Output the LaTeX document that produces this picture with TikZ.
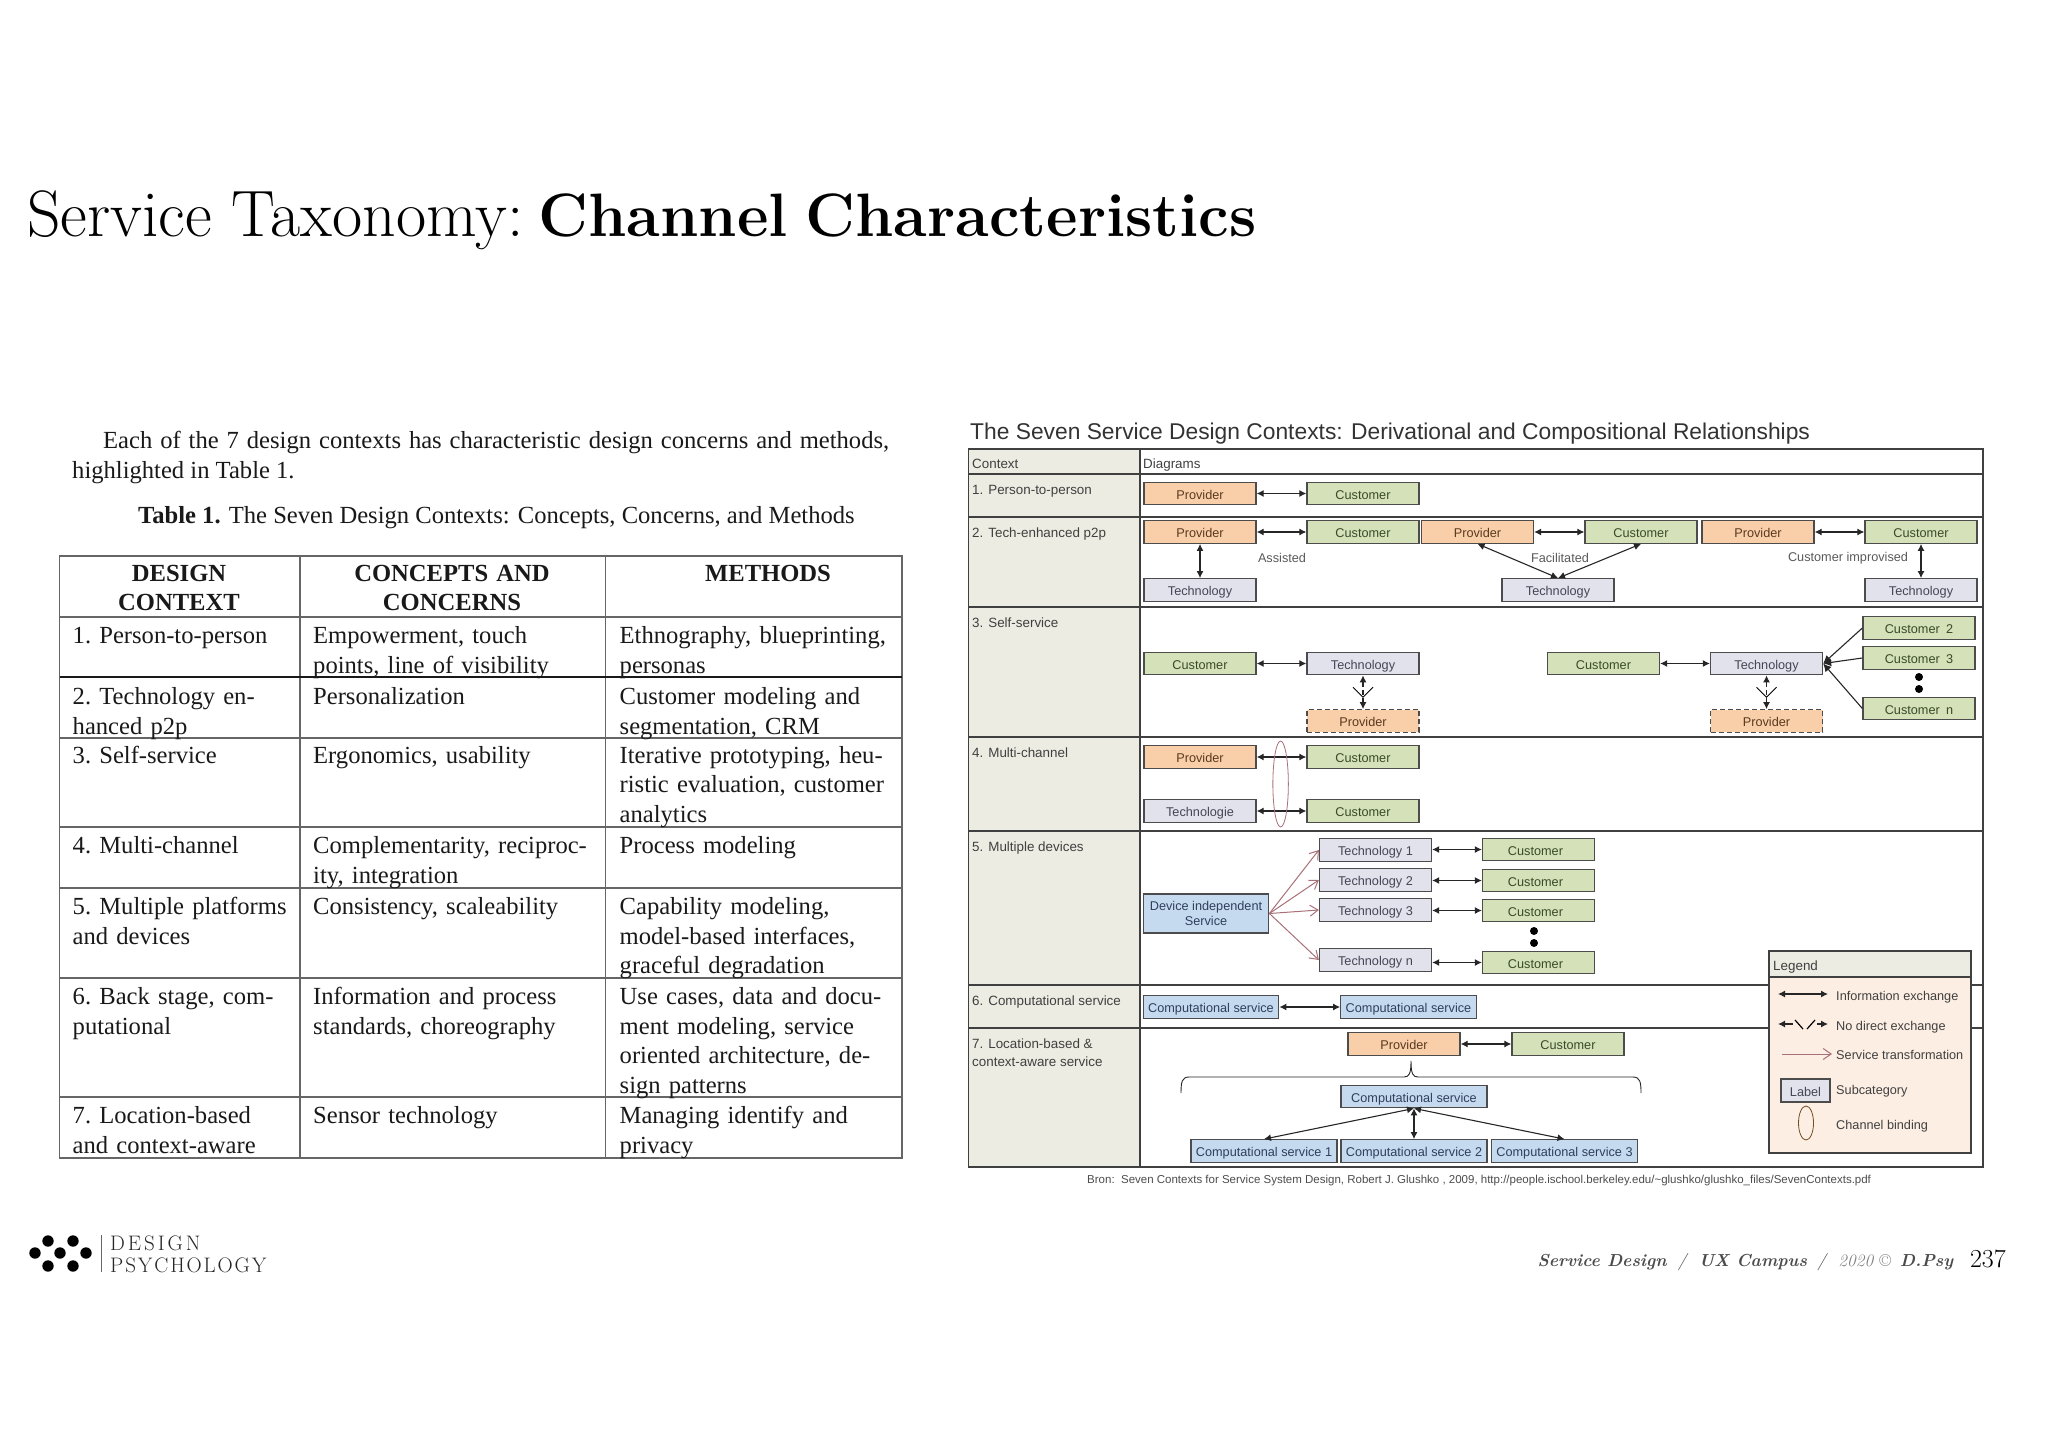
\documentclass[tikz,border=0pt]{standalone}
\usepackage{fontspec}
\usetikzlibrary{arrows.meta,calc,shapes.geometric}
\newfontfamily\sansf{Liberation Sans}
\newfontfamily\timesf{Liberation Serif}
\newfontfamily\logof[LetterSpace=9]{Latin Modern Roman}
\newfontfamily\logofwide[LetterSpace=14]{Latin Modern Roman}
\newcommand{\boxfont}{\sansf\fontsize{12.7}{15}\selectfont}
\newcommand{\paperfont}{\timesf\fontsize{24.6}{29.5}\selectfont}
\definecolor{provfill}{HTML}{F9CFA9}
\definecolor{custfill}{HTML}{D5E2B9}
\definecolor{techfill}{HTML}{E2E2EC}
\definecolor{servfill}{HTML}{C6DAEF}
\definecolor{ctxfill}{HTML}{ECECE2}
\definecolor{legfill}{HTML}{FDEEE3}
\definecolor{rose}{HTML}{A87078}
\definecolor{provtext}{HTML}{5A3A20}
\definecolor{custtext}{HTML}{3A4A28}
\definecolor{techtext}{HTML}{454555}
\definecolor{servtext}{HTML}{2F3F5C}
\tikzset{
    cell/.style={anchor=north west, inner sep=0, text width=285, align=left, font=\paperfont, text=black!90, execute at begin node={\frenchspacing\strut}},
    headcell/.style={anchor=north, inner sep=0, text width=235, align=center, font=\paperfont\bfseries, text=black!90, execute at begin node=\strut},
    paper/.style={anchor=mid west, inner sep=0, font=\paperfont, text=black!90},
    rule/.style={line width=1.2pt, black!60},
    grule/.style={line width=1.5pt, black!75},
    label/.style={anchor=mid west, inner sep=0, yshift=-3pt, align=left, font=\sansf\fontsize{13.4}{18}\selectfont, text=black!75},
    note/.style={inner sep=0, yshift=-3pt, font=\sansf\fontsize{12.7}{15}\selectfont, text=black!65},
    box/.style={draw=black!70, line width=1.3pt, inner sep=0, minimum width=112, minimum height=22.5, align=center, font=\boxfont},
    evenbase/.style={text height=12pt, text depth=1pt},
    prov/.style={box, evenbase, fill=provfill, text=provtext},
    cust/.style={box, evenbase, fill=custfill, text=custtext},
    tech/.style={box, evenbase, fill=techfill, text=techtext},
    servbase/.style={box, fill=servfill, text=servtext},
    serv/.style={servbase, evenbase, minimum width=146},
    maybe/.style={prov, dash pattern=on 5pt off 3pt},
    exch/.style={{Latex[length=7pt,width=7pt]}-{Latex[length=7pt,width=7pt]}, line width=1.1pt, black!85},
    tipfrom/.style={{Latex[length=7pt,width=7pt]}-, line width=1.1pt, black!85},
    tipto/.style={-{Latex[length=7pt,width=7pt]}, line width=1.1pt, black!85},
    turn/.style={-{Straight Barb[length=8pt,width=11pt]}, line width=1pt, rose},
    binding/.style={ellipse, draw=rose, line width=0.8pt, inner sep=0, minimum width=15.5},
}
\begin{document}
\begin{tikzpicture}[x=1pt,y=-1pt]
    \useasboundingbox (0,0) rectangle (2048,1447);

    % Slide title and footer
    \node[anchor=mid west, inner sep=0, font=\fontsize{65.6}{70}\selectfont] (title) at (27,234)
        {Service Taxonomy:\hspace{-11pt} {\fontsize{61.3}{70}\selectfont\bfseries Channel\hspace{-5pt} Characteristics}};
    \foreach \x/\y in {48/1241, 73/1241, 35/1253, 60/1253, 86/1253, 48/1266, 73/1266} {
        \fill (\x,\y) circle (5.7);
    }
    \draw[line width=1pt, black!60] (101,1235) -- (101,1272);
    \node[anchor=mid west, inner sep=0, font=\logofwide\fontsize{21}{24}\selectfont, text=black!85] (logotop) at (110,1248) {DESIGN};
    \node[anchor=mid west, inner sep=0, font=\logof\fontsize{21}{24}\selectfont, text=black!85] (logobot) at (110,1270) {PSYCHOLOGY};
    \node[anchor=mid east, inner sep=0, font=\fontsize{17.4}{22}\selectfont, text=black!70] (foot) at (1954,1264)
        {\textbf{\textit{Service Design}}\hspace{0.6em}\textit{/}\hspace{0.6em}\textbf{\textit{UX Campus}}\hspace{0.6em}\textit{/}\hspace{0.6em}\textcolor{black!50}{\textit{2020} \textcopyright}\hspace{0.5em}\textbf{\textit{D.Psy}}};
    \node[anchor=mid east, inner sep=0, font=\fontsize{26}{30}\selectfont] (page) at (2006,1265) {237};

    % Left text above the table
    \node[paper] (introa) at (103,446.5)
        {\makebox[786pt][s]{Each of the 7 design contexts has characteristic design concerns and methods,}};
    \node[paper] (introb) at (72,476.5) {highlighted in Table 1.};
    \node[paper] (tabcap) at (138,521)
        {\textbf{Table 1.} The Seven Design Contexts: Concepts, Concerns, and Methods};

    % Left table
    \draw[rule] (59.5,556) rectangle (902,1158);
    \foreach \x in {300,605.5} {
        \draw[rule] (\x,556) -- (\x,1158);
    }
    \foreach \y in {617,738,827,888,978,1097} {
        \draw[rule] (59.5,\y) -- (902,\y);
    }
    \draw[line width=2pt, black!90] (59.5,677) -- (902,677);
    \node[headcell] (heada) at (179,560.5) {DESIGN\\CONTEXT};
    \node[headcell] (headb) at (452,560.5) {CONCEPTS AND\\CONCERNS};
    \node[headcell] (headc) at (768,560.5) {METHODS};
    \foreach \n/\y/\a/\b/\c in {
        1/623/{1. Person-to-person}/{Empowerment, touch\\points, line of visibility}/{Ethnography, blueprinting,\\personas},
        2/684/{2. Technology en-\\hanced p2p}/{Personalization}/{Customer modeling and\\segmentation, CRM},
        3/742.5/{3. Self-service}/{Ergonomics, usability}/{Iterative prototyping, heu-\\ristic evaluation, customer\\analytics},
        4/833/{4. Multi-channel}/{Complementarity, reciproc-\\ity, integration}/{Process modeling},
        5/894/{5. Multiple platforms\\and devices}/{Consistency, scaleability}/{Capability modeling,\\model-based interfaces,\\graceful degradation},
        6/984/{6. Back stage, com-\\putational}/{Information and process\\standards, choreography}/{Use cases, data and docu-\\ment modeling, service\\oriented architecture, de-\\sign patterns},
        7/1103/{7. Location-based\\and context-aware}/{Sensor technology}/{Managing identify and\\privacy}} {
        \node[cell] (ctx\n) at (72.5,\y) {\a};
        \node[cell] (con\n) at (313,\y) {\b};
        \node[cell] (met\n) at (619.5,\y) {\c};
    }

    % Right figure frame
    \node[anchor=mid west, inner sep=0, font=\sansf\fontsize{22.8}{26}\selectfont, text=black!80] (figtitle) at (970,437.5)
        {The Seven Service Design Contexts: Derivational and Compositional Relationships};
    \fill[ctxfill] (968.5,449) rectangle (1140,1167);
    \foreach \y in {474,517,607,737,831,985,1028} {
        \draw[grule] (968.5,\y) -- (1983,\y);
    }
    \draw[grule] (968.5,449) rectangle (1983,1167);
    \draw[grule] (1140,449) -- (1140,1167);
    \node[label] (lblctx) at (972,463) {Context};
    \node[label] (lbldia) at (1143,463) {Diagrams};
    \node[label] (lbla) at (972,489) {1. Person-to-person};
    \node[label] (lblb) at (972,532) {2. Tech-enhanced p2p};
    \node[label] (lblc) at (972,622) {3. Self-service};
    \node[label] (lbld) at (972,752) {4. Multi-channel};
    \node[label] (lble) at (972,846) {5. Multiple devices};
    \node[label] (lblf) at (972,1000) {6. Computational service};
    \node[label, anchor=north west] (lblg) at (972,1036) {7. Location-based \&\\context-aware service};

    % 1. Person-to-person
    \node[prov] (pa) at (1200,493.5) {Provider};
    \node[cust] (ca) at (1363,493.5) {Customer};
    \draw[exch] (pa) -- (ca);

    % 2. Tech-enhanced p2p
    \node[prov] (pb) at (1200,532) {Provider};
    \node[cust] (cb) at (1363,532) {Customer};
    \node[tech] (tb) at (1200,590) {Technology};
    \node[prov] (pc) at (1477.5,532) {Provider};
    \node[cust] (cc) at (1641,532) {Customer};
    \node[tech] (tc) at (1558,590) {Technology};
    \node[prov] (pd) at (1758,532) {Provider};
    \node[cust] (cd) at (1921,532) {Customer};
    \node[tech] (td) at (1921,590) {Technology};
    \draw[exch] (pb) -- (cb);
    \draw[exch] (pb) -- (tb);
    \draw[exch] (pc) -- (cc);
    \draw[exch] (pc.south) -- (tc.north);
    \draw[exch] (cc.south) -- (tc.north);
    \draw[exch] (pd) -- (cd);
    \draw[exch] (cd) -- (td);
    \node[note] (noteb) at (1282,555) {Assisted};
    \node[note] (notec) at (1560,555) {Facilitated};
    \node[note] (noted) at (1848,555) {Customer improvised};

    % 3. Self-service
    \node[cust] (ce) at (1200,663.5) {Customer};
    \node[tech] (te) at (1363,663.5) {Technology};
    \node[maybe] (pe) at (1363,721) {Provider};
    \node[cust] (cf) at (1603.5,663.5) {Customer};
    \node[tech] (tf) at (1766.5,663.5) {Technology};
    \node[maybe] (pf) at (1766.5,721) {Provider};
    \node[cust] (cfb) at (1919,628) {Customer\hspace{0.5em}2};
    \node[cust] (cfc) at (1919,658) {Customer\hspace{0.5em}3};
    \node[cust] (cfn) at (1919,708.5) {Customer\hspace{0.5em}n};
    \draw[exch] (ce) -- (te);
    \draw[exch] (cf) -- (tf);
    \foreach \a/\b in {te/pe, tf/pf} {
        \draw[exch, dash pattern=on 5pt off 3pt] (\a.south) -- (\b.north);
        \draw[line width=0.9pt] ($(\a.south)!0.5!(\b.north)$) ++(-10,-5) -- ++(10,10) -- ++(10,-10);
    }
    \foreach \b in {cfb, cfc, cfn} {
        \draw[{Latex[length=8pt,width=8pt]}-, line width=1.1pt, black!85] (tf.east) -- (\b.west);
    }
    \fill (1919,677) circle (4);
    \fill (1919,689) circle (4);

    % 4. Multi-channel
    \node[prov] (pg) at (1200,757) {Provider};
    \node[cust] (cg) at (1363,757) {Customer};
    \node[tech] (tg) at (1200,811) {Technologie};
    \node[cust] (ch) at (1363,811) {Customer};
    \draw[exch] (pg) -- (cg);
    \draw[exch] (tg) -- (ch);
    \node[binding, minimum height=86] (bind) at (1280.6,784) {};

    % 5. Multiple devices
    \node[servbase, minimum width=125.5, minimum height=39] (dev) at (1206,913.5) {Device independent\\Service};
    \foreach \n/\t/\y/\yc in {1/1/850/849.5, 2/2/880/880.5, 3/3/910/910.5, 4/n/960/962.5} {
        \node[tech] (dt\n) at (1375.5,\y) {Technology \t};
        \node[cust] (dc\n) at (1538.5,\yc) {Customer\hspace{6pt}};
        \draw[turn] (dev.east) -- (dt\n.west);
        \draw[exch] (dt\n.east |- dc\n.west) -- (dc\n.west);
    }
    \fill (1534,931) circle (4);
    \fill (1534,943) circle (4);

    % 6. Computational service
    \node[serv, minimum width=135.5] (sa) at (1211,1007) {Computational service};
    \node[serv, minimum width=135.5] (sb) at (1408.5,1007) {Computational service};
    \draw[exch] (sa) -- (sb);

    % 7. Location-based
    \node[prov] (ph) at (1404,1044) {Provider};
    \node[cust] (ci) at (1568,1044) {Customer};
    \draw[exch] (ph) -- (ci);
    \draw[line width=0.9pt, black!85] (1181,1093) .. controls (1181,1082) and (1182,1077) .. (1189,1077)
        -- (1404,1077) .. controls (1409,1077) and (1411,1074) .. (1411,1061)
        .. controls (1411,1074) and (1413,1077) .. (1418,1077)
        -- (1633,1077) .. controls (1640,1077) and (1641,1082) .. (1641,1093);
    \node[serv] (sc) at (1414,1096.5) {Computational service};
    \node[serv] (sd) at (1264,1151) {Computational service 1};
    \node[serv] (se) at (1414,1151) {Computational service 2};
    \node[serv] (sf) at (1564.5,1151) {Computational service 3};
    \foreach \b in {sd, se, sf} {
        \draw[exch] (sc.south) -- (\b.north);
    }

    % Legend
    \draw[grule, fill=legfill] (1769,951) rectangle (1971,1153);
    \draw[grule, fill=ctxfill] (1769,951) rectangle (1971,977);
    \node[label] (leghead) at (1773,965) {Legend};
    \coordinate (iea) at (1778,994);
    \coordinate (ieb) at (1828,994);
    \draw[exch] (iea) -- (ieb);
    \node[label, font=\boxfont] (lgia) at (1836,995) {Information exchange};
    \coordinate (nda) at (1778,1024);
    \coordinate (ndb) at (1793,1024);
    \coordinate (ndc) at (1817,1024);
    \coordinate (ndd) at (1828,1024);
    \draw[tipfrom] (nda) -- (ndb);
    \draw[tipto] (ndc) -- (ndd);
    \draw[line width=1.2pt] (1795,1020) -- (1803,1029);
    \draw[line width=1.2pt] (1815,1020) -- (1807,1029);
    \node[label, font=\boxfont] (lgib) at (1836,1025) {No direct exchange};
    \coordinate (sta) at (1782,1054);
    \coordinate (stb) at (1832,1054);
    \draw[turn] (sta) -- (stb);
    \node[label, font=\boxfont] (lgic) at (1836,1054) {Service transformation};
    \node[tech, minimum width=49, minimum height=23] (lgbox) at (1805.5,1090.5) {Label};
    \node[label, font=\boxfont] (lgid) at (1836,1089) {Subcategory};
    \node[binding, draw=brown!60!black, minimum height=34, minimum width=15] (lgbind) at (1806,1123) {};
    \node[label, font=\boxfont] (lgie) at (1836,1124) {Channel binding};

    % Source line
    \node[anchor=mid west, inner sep=0, font=\sansf\fontsize{11.5}{13}\selectfont, text=black!70] (bron) at (1087,1181)
        {Bron:\ \ Seven Contexts for Service System Design, Robert J. Glushko , 2009, http://people.ischool.berkeley.edu/\textasciitilde glushko/glushko\_files/SevenContexts.pdf};
\end{tikzpicture}
\end{document}
